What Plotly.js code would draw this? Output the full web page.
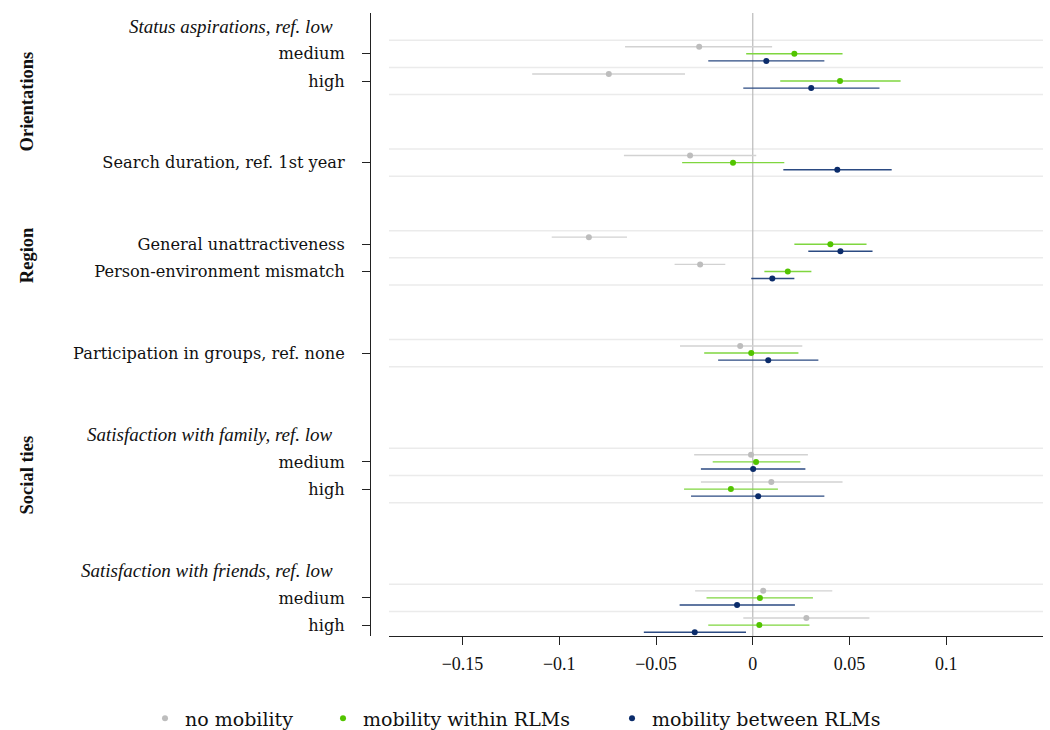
<!DOCTYPE html>
<html><head><meta charset="utf-8">
<script src="https://cdn.plot.ly/plotly-3.0.1.min.js"></script>
<style>html,body{margin:0;padding:0;background:#fff}#chart{width:1050px;height:730px}</style>
</head><body><div id="chart"></div>
<script>
// ---- data ----
const categories = ["medium","high","Search duration, ref. 1st year","General unattractiveness","Person-environment mismatch","Participation in groups, ref. none","medium","high","medium","high"];
const headers = ["Status aspirations, ref. low","Satisfaction with family, ref. low","Satisfaction with friends, ref. low"];
const groups = ["Orientations","Region","Social ties"];
const seriesNames = ["no mobility","mobility within RLMs","mobility between RLMs"];

const noMobEst = [-0.0277,-0.0744,-0.0324,-0.0847,-0.0272,-0.0065,-0.0009, 0.0096, 0.0054, 0.0277];
const noMobLo  = [-0.0660,-0.1140,-0.0666,-0.1039,-0.0404,-0.0376,-0.0303,-0.0268,-0.0298,-0.0049];
const noMobHi  = [ 0.0100,-0.0350, 0.0018,-0.0650,-0.0142, 0.0256, 0.0285, 0.0464, 0.0411, 0.0603];

const withinEst = [ 0.0215, 0.0451,-0.0102, 0.0401, 0.0181,-0.0008, 0.0017,-0.0113, 0.0037, 0.0034];
const withinLo  = [-0.0034, 0.0142,-0.0365, 0.0215, 0.0060,-0.0251,-0.0207,-0.0355,-0.0239,-0.0230];
const withinHi  = [ 0.0464, 0.0764, 0.0163, 0.0588, 0.0303, 0.0236, 0.0246, 0.0130, 0.0311, 0.0293];

const betweenEst = [ 0.0070, 0.0302, 0.0437, 0.0453, 0.0101, 0.0080, 0.0002, 0.0028,-0.0081,-0.0300];
const betweenLo  = [-0.0230,-0.0049, 0.0158, 0.0287,-0.0008,-0.0179,-0.0268,-0.0319,-0.0378,-0.0563];
const betweenHi  = [ 0.0370, 0.0655, 0.0718, 0.0619, 0.0215, 0.0339, 0.0272, 0.0370, 0.0218,-0.0035];

const xTickVals = [-0.15,-0.1,-0.05,0,0.05,0.1];

// ---- layout constants ----
const rowPos = [0,1,4,7,8,11,15,16,20,21];
const headerPos = [-1,14,19];
const groupPos = [1.75,7.4,15.5];
const yRange = [21.4,-1.5];
const offsets = [-0.26,0,0.26];
const pointColors = ["#bdbdbd","#52c400","#0b2c6b"];
const ciColors = ["#d2d2d2","#7fd63f","#2b4a82"];
const legendX = [145,323,612];
const SERIF = "Liberation Serif, Times New Roman, serif";
const WIDE = "DejaVu Serif, serif";

const series = [[noMobEst,noMobLo,noMobHi],[withinEst,withinLo,withinHi],[betweenEst,betweenLo,betweenHi]];
const legendIds = ['legend','legend2','legend3'];

const traces = series.map((s,k)=>({
  type:'scatter', mode:'markers', name:seriesNames[k], legend:legendIds[k],
  x:s[0], y:rowPos.map(p=>p+offsets[k]),
  marker:{color:pointColors[k], size:6},
  error_x:{type:'data', symmetric:false,
    array:s[2].map((h,i)=>h-s[0][i]), arrayminus:s[0].map((e,i)=>e-s[1][i]),
    width:0, thickness:1.4, color:ciColors[k]},
  hoverinfo:'x+name'
}));

const gridYs = [...new Set(rowPos.flatMap(p=>[p-0.5,p+0.5]))].filter(v=>v<yRange[0] && v>yRange[1]);
const x0dom = 19/673;
const shapes = gridYs.map(v=>({type:'line', xref:'paper', yref:'y', x0:x0dom, x1:1, y0:v, y1:v,
  line:{color:'#ebebeb', width:1.5}, layer:'below'}));
shapes.push({type:'line', xref:'x', yref:'paper', x0:0, x1:0, y0:0, y1:1, line:{color:'#bbbbbb', width:1.2}, layer:'below'});

const annotations = [];
headers.forEach((h,i)=>annotations.push({xref:'paper', yref:'y', x:-35/673, y:headerPos[i], xanchor:'right', yanchor:'middle',
  text:'<i>'+h+'</i>', showarrow:false, font:{family:SERIF, size:19, color:'#111'}}));
groups.forEach((g,i)=>annotations.push({xref:'paper', yref:'y', x:-343/673, y:groupPos[i], xanchor:'center', yanchor:'middle',
  text:'<b>'+g+'</b>', textangle:-90, showarrow:false, font:{family:SERIF, size:18.5, color:'#111'}}));

function mkLegend(px){
  return {orientation:'h', xref:'container', yref:'container', x:px/1050, xanchor:'left', y:0.016, yanchor:'middle',
    font:{family:WIDE, size:19, color:'#111'}, bgcolor:'rgba(0,0,0,0)', itemwidth:30};
}

const layout = {
  width:1050, height:730,
  margin:{l:370, r:7, t:13, b:94},
  paper_bgcolor:'#fff', plot_bgcolor:'#fff',
  font:{family:SERIF, size:17, color:'#111'},
  showlegend:true,
  legend:mkLegend(legendX[0]), legend2:mkLegend(legendX[1]), legend3:mkLegend(legendX[2]),
  xaxis:{domain:[x0dom,1], range:[-0.188,0.15], tickvals:xTickVals, ticks:'outside', ticklen:8, tickcolor:'#222',
    showline:true, linecolor:'#222', linewidth:1, showgrid:false, zeroline:false,
    tickfont:{family:SERIF, size:18}, ticklabelstandoff:3},
  yaxis:{anchor:'free', position:0, range:yRange, tickvals:rowPos, ticktext:categories, ticks:'outside', ticklen:8,
    tickcolor:'#222', showline:true, linecolor:'#222', linewidth:1, showgrid:false, zeroline:false,
    tickfont:{family:WIDE, size:16.2}, ticklabelstandoff:14},
  shapes:shapes, annotations:annotations
};

Plotly.newPlot('chart', traces, layout, {displayModeBar:false, staticPlot:true});
</script></body></html>
